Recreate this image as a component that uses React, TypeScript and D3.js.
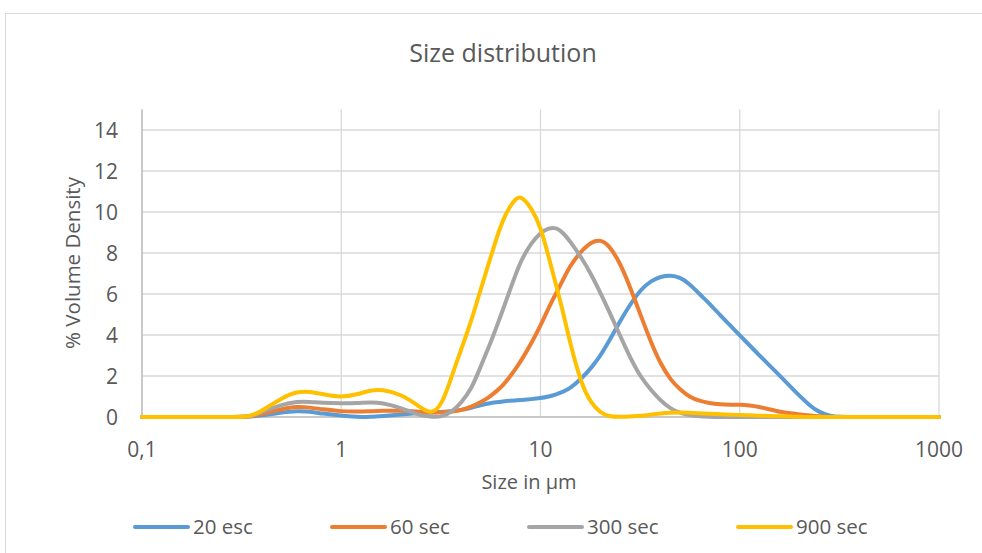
import React from "react";
import * as d3 from "d3";

const sizes = [0.1, 0.2, 0.3, 0.35, 0.4, 0.5, 0.6, 0.7, 0.8, 1, 1.2, 1.4, 1.6, 2, 2.4, 2.8, 3.2, 3.6, 4, 4.5, 5, 5.5, 6, 6.5, 7, 7.5, 8, 9, 10, 11, 12, 13, 14, 16, 18, 20, 22, 25, 28, 32, 36, 40, 45, 50, 56, 63, 70, 80, 90, 100, 112, 125, 140, 160, 180, 200, 225, 250, 280, 320, 400, 600, 1000];

const s20 = [0, 0, 0, 0.01, 0.08, 0.22, 0.3, 0.26, 0.17, 0.06, 0.01, 0, 0.04, 0.12, 0.18, 0.22, 0.25, 0.28, 0.34, 0.45, 0.57, 0.66, 0.72, 0.76, 0.79, 0.81, 0.83, 0.87, 0.92, 1.0, 1.1, 1.24, 1.38, 1.85, 2.4, 3.0, 3.66, 4.65, 5.45, 6.25, 6.65, 6.85, 6.92, 6.82, 6.5, 5.98, 5.57, 4.95, 4.45, 3.98, 3.5, 3.02, 2.55, 1.98, 1.47, 1.02, 0.55, 0.24, 0.06, 0, 0, 0, 0];
const s60 = [0, 0, 0, 0.02, 0.15, 0.38, 0.52, 0.46, 0.38, 0.27, 0.26, 0.28, 0.3, 0.32, 0.27, 0.22, 0.22, 0.26, 0.33, 0.5, 0.72, 0.95, 1.25, 1.55, 1.95, 2.35, 2.75, 3.6, 4.45, 5.35, 6.05, 6.7, 7.35, 8.1, 8.55, 8.65, 8.4, 7.55, 6.4, 4.9, 3.6, 2.6, 1.8, 1.35, 0.97, 0.78, 0.68, 0.62, 0.6, 0.6, 0.57, 0.5, 0.38, 0.24, 0.18, 0.13, 0.07, 0.03, 0, 0, 0, 0, 0];
const s300 = [0, 0, 0, 0.02, 0.25, 0.6, 0.76, 0.74, 0.69, 0.67, 0.68, 0.72, 0.7, 0.45, 0.12, 0, 0, 0.25, 0.7, 1.35, 2.45, 3.4, 4.35, 5.28, 6.15, 6.95, 7.65, 8.5, 9.0, 9.22, 9.25, 8.98, 8.6, 7.8, 6.95, 6.05, 5.2, 4.0, 2.95, 1.9, 1.3, 0.8, 0.4, 0.2, 0.08, 0.03, 0.01, 0, 0, 0, 0, 0, 0, 0, 0, 0, 0, 0, 0, 0, 0, 0, 0];
const s900 = [0, 0, 0, 0.02, 0.3, 0.92, 1.25, 1.24, 1.12, 0.95, 1.1, 1.3, 1.36, 1.1, 0.6, 0.1, 0.55, 2.05, 3.3, 4.7, 6.2, 7.5, 8.7, 9.65, 10.25, 10.65, 10.8, 10.2, 9.3, 7.8, 6.4, 5.1, 3.7, 1.6, 0.65, 0.2, 0.02, 0, 0.02, 0.05, 0.12, 0.18, 0.21, 0.22, 0.21, 0.18, 0.16, 0.13, 0.11, 0.1, 0.08, 0.06, 0.05, 0.03, 0.02, 0.01, 0, 0, 0, 0, 0, 0, 0];

const seriesNames = ["20 esc", "60 sec", "300 sec", "900 sec"];
const seriesValues = [s20, s60, s300, s900];
const colors = ["#5B9BD5", "#ED7D31", "#A5A5A5", "#FFC000"];
const xTicks = [0.1, 1, 10, 100, 1000];
const xTickLabels = ["0,1", "1", "10", "100", "1000"];
const yTicks = [0, 2, 4, 6, 8, 10, 12, 14];
const legendX = [135, 332, 529, 738];

const W = 982;
const H = 553;
const FONT = "'Open Sans', sans-serif";
const TXT = "#595959";

export default function App() {
  const x = d3.scaleLog().domain([0.1, 1000]).range([142, 939]);
  const y = d3.scaleLinear().domain([0, 15]).range([417, 109.5]);
  const line = d3
    .line<[number, number]>()
    .x((d) => x(d[0]))
    .y((d) => y(d[1]))
    .curve(d3.curveBasis);

  return (
    <svg width={W} height={H} style={{ position: "absolute", left: 0, top: 0, background: "#fff" }} fontFamily={FONT}>
      <rect x={0} y={0} width={W} height={H} fill="#fff" />
      <rect x={5.5} y={13.5} width={W + 10} height={H + 10} fill="#fff" stroke="#D9D9D9" strokeWidth={1} />
      <text x={503} y={62} textAnchor="middle" fontSize={25} fill={TXT}>Size distribution</text>
      {yTicks.map((t) => (
        <line key={"gy" + t} x1={142} x2={939} y1={y(t)} y2={y(t)} stroke="#D9D9D9" strokeWidth={1.3} />
      ))}
      {xTicks.map((t) => (
        <line key={"gx" + t} x1={x(t)} x2={x(t)} y1={y(15)} y2={y(0)} stroke="#D9D9D9" strokeWidth={1.3} />
      ))}
      <line x1={142} x2={142} y1={y(15)} y2={y(0)} stroke="#BFBFBF" strokeWidth={1.5} />
      <line x1={142} x2={939} y1={y(0)} y2={y(0)} stroke="#BFBFBF" strokeWidth={1.5} />
      {yTicks.map((t) => (
        <text key={"ty" + t} x={118} y={y(t) + 7.5} textAnchor="end" fontSize={21} fill={TXT}>{t}</text>
      ))}
      {xTicks.map((t, i) => (
        <text key={"tx" + t} x={x(t)} y={457} textAnchor="middle" fontSize={21} fill={TXT}>{xTickLabels[i]}</text>
      ))}
      <text x={529} y={489} textAnchor="middle" fontSize={20} fill={TXT}>Size in µm</text>
      <text transform="translate(80,263) rotate(-90)" textAnchor="middle" fontSize={20.5} fill={TXT}>% Volume Density</text>
      {seriesValues.map((vals, i) => (
        <path
          key={"s" + i}
          d={line(sizes.map((s, j) => [s, vals[j]] as [number, number])) || ""}
          fill="none"
          stroke={colors[i]}
          strokeWidth={4}
          strokeLinejoin="round"
          strokeLinecap="round"
        />
      ))}
      {seriesNames.map((n, i) => (
        <g key={"l" + i}>
          <line x1={legendX[i]} x2={legendX[i] + 53} y1={527} y2={527} stroke={colors[i]} strokeWidth={4} strokeLinecap="round" />
          <text x={legendX[i] + 58} y={534} fontSize={20.5} fill={TXT}>{n}</text>
        </g>
      ))}
    </svg>
  );
}
